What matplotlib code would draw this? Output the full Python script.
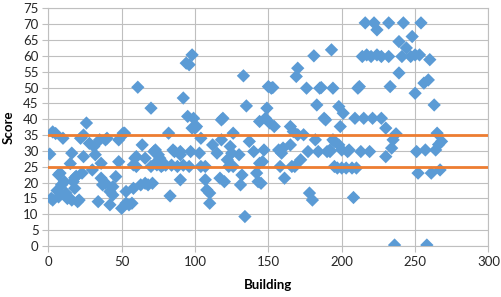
import matplotlib
matplotlib.use('Agg')
import matplotlib.pyplot as plt
import numpy as np

# building index and score
building = [1, 2, 3, 3, 5, 6, 7, 7, 8, 9, 10, 11, 12, 13, 15, 16, 16, 17, 18, 18,
            19, 20, 21, 22, 23, 24, 24, 26,
            28, 30, 31, 32, 34, 35, 36, 36, 37, 39, 39, 40, 42, 42, 44, 44, 46, 48, 48, 50,
            51, 52, 53, 53, 55, 57, 58, 58, 59, 60, 60, 61, 63, 64, 66, 66, 68, 70, 70, 71,
            72, 73, 73, 74, 75,
            76, 77, 78, 80, 82, 83, 84, 85, 86, 88, 90, 90, 90, 92, 92, 94, 95, 96, 96, 97,
            98, 98, 99, 100,
            101, 103, 104, 104, 107, 107, 108, 110, 110, 112, 115, 117, 118, 118, 119, 120,
            122, 123, 124, 125, 126, 126, 130, 131, 132, 133, 134, 135, 137, 140, 142, 143,
            144, 144, 145, 146, 147, 148, 149, 150,
            151, 152, 153, 154, 157, 158, 159, 160, 161, 165, 165, 166, 167, 168, 169, 170,
            170, 172, 174, 176, 177, 178, 180, 181, 182, 183, 184, 185, 186, 188, 189, 190,
            192, 192, 193, 194, 194, 195, 195, 197, 198, 198, 199, 200, 200,
            201, 203, 204, 205, 207, 208, 209, 210, 211, 212, 213, 214, 215, 216, 217, 219,
            220, 221, 222, 224, 224, 227, 227, 230, 230, 232, 232, 233, 234, 235, 236, 237,
            239, 239, 241, 242, 244, 247, 248, 250, 250, 251, 252, 253, 254, 256, 257, 258,
            259, 260, 261, 263, 264, 265, 266, 267, 268]
score = [29, 15, 36, 14.5, 35.5, 17.5, 15.5, 22.5, 23, 19.3, 34, 20.3, 16.7, 15, 26, 29.3, 14.5, 20.3, 21.5, 18.2,
         22, 14, 14.5, 34, 23, 28.2, 35, 38.8,
         32.4, 24, 31.4, 28.8, 14, 33.5, 21.4, 26.1, 19.3, 19.8, 33.5, 34, 17.2, 13, 16.1, 18.7, 21.9, 33.5, 26.6, 11.9,
         35.6, 35.6, 13.5, 17.2, 13, 13.5, 18.2, 25.6, 27.7, 25.1, 28.2, 50.1, 19.3, 31.9, 27.7, 19.8, 19.3, 25.1, 43.5, 19.8,
         29.8, 30.3, 26.1, 25.6, 28.8,
         27.7, 25.1, 25.5, 25.5, 35.6, 15.8, 25.5, 30.3, 29.8, 25.1, 20.9, 28.8, 29.8, 46.7, 25.5, 57.7, 40.9, 57.2, 25.1, 29.8,
         37.2, 60.3, 40.3, 37.2,
         37.7, 29.3, 34, 25.1, 25.1, 20.9, 17.7, 16.7, 13.5, 31.9, 29.3, 21.4, 33.5, 39.8, 40.3, 20.3,
         27.2, 25.1, 31.4, 29.3, 35.6, 25.1, 28.8, 19.3, 22.4, 53.7, 9.3, 44.2, 33, 29.8, 23, 20.3,
         26.1, 39.3, 19.8, 26.6, 30.3, 40.3, 43.5, 50.3,
         38.8, 49.8, 50, 37.7, 30.3, 25.1, 29.3, 30.9, 21.4, 31.9, 37.7, 25.1, 36.1, 25.1, 53.5, 56.1,
         35.1, 27.2, 35.1, 49.8, 29.8, 16.7, 14.5, 60, 33.5, 44.5, 29.8, 49.8, 50, 40.3, 39.8, 29.8,
         29.8, 30.3, 61.9, 49.8, 33.5, 33, 25.1, 24.6, 31.9, 44, 37.7, 30.3, 24.6,
         41.9, 24.6, 29.8, 30.3, 24.6, 15.3, 40.3, 24.6, 49.8, 50.3, 29.8, 59.8, 40.3, 70.4, 60.3, 29.8,
         59.8, 40.3, 70.4, 68.2, 60.3, 40.3, 59.8, 37.2, 28.2, 70.4, 59.8, 50.3, 30.9, 33.5, 0.3, 35.4,
         64.5, 54.6, 59.8, 70.4, 62.5, 59.8, 66.1, 60.3, 48.2, 29.8, 23, 60.3, 70.4, 51.4, 30.3, 0.3,
         52.4, 58.8, 23, 44.5, 30.3, 35.6, 32, 24, 33]

upper_limit = 35
lower_limit = 25

plt.rcParams['font.family'] = ['Lato', 'DejaVu Sans']

fig = plt.figure(figsize=(5.01, 2.97), dpi=100)
ax = fig.add_axes([0.0964, 0.1717, 0.8786, 0.8003])

ax.scatter(building, score, marker='D', s=46, color='#5B9BD5', edgecolors='none', zorder=3)
ax.axhline(upper_limit, color='#ED7D31', lw=2, zorder=4)
ax.axhline(lower_limit, color='#ED7D31', lw=2, zorder=4)

ax.set_xlim(0, 300)
ax.set_ylim(0, 75)
ax.set_xticks(np.arange(0, 301, 50))
ax.set_yticks(np.arange(0, 76, 5))
ax.grid(True, color='#BFBFBF', lw=0.8, zorder=0)
ax.set_axisbelow(True)
for s in ax.spines.values():
    s.set_color('#BFBFBF')
    s.set_linewidth(0.8)
ax.tick_params(length=4, width=0.8, color='#BFBFBF', labelsize=9.5, labelcolor='#262626', pad=3)

ax.set_xlabel('Building', fontsize=9.5, fontweight='bold', labelpad=8)
ax.set_ylabel('Score', fontsize=9.5, fontweight='bold', labelpad=6)

fig.savefig('out.png', dpi=100)
